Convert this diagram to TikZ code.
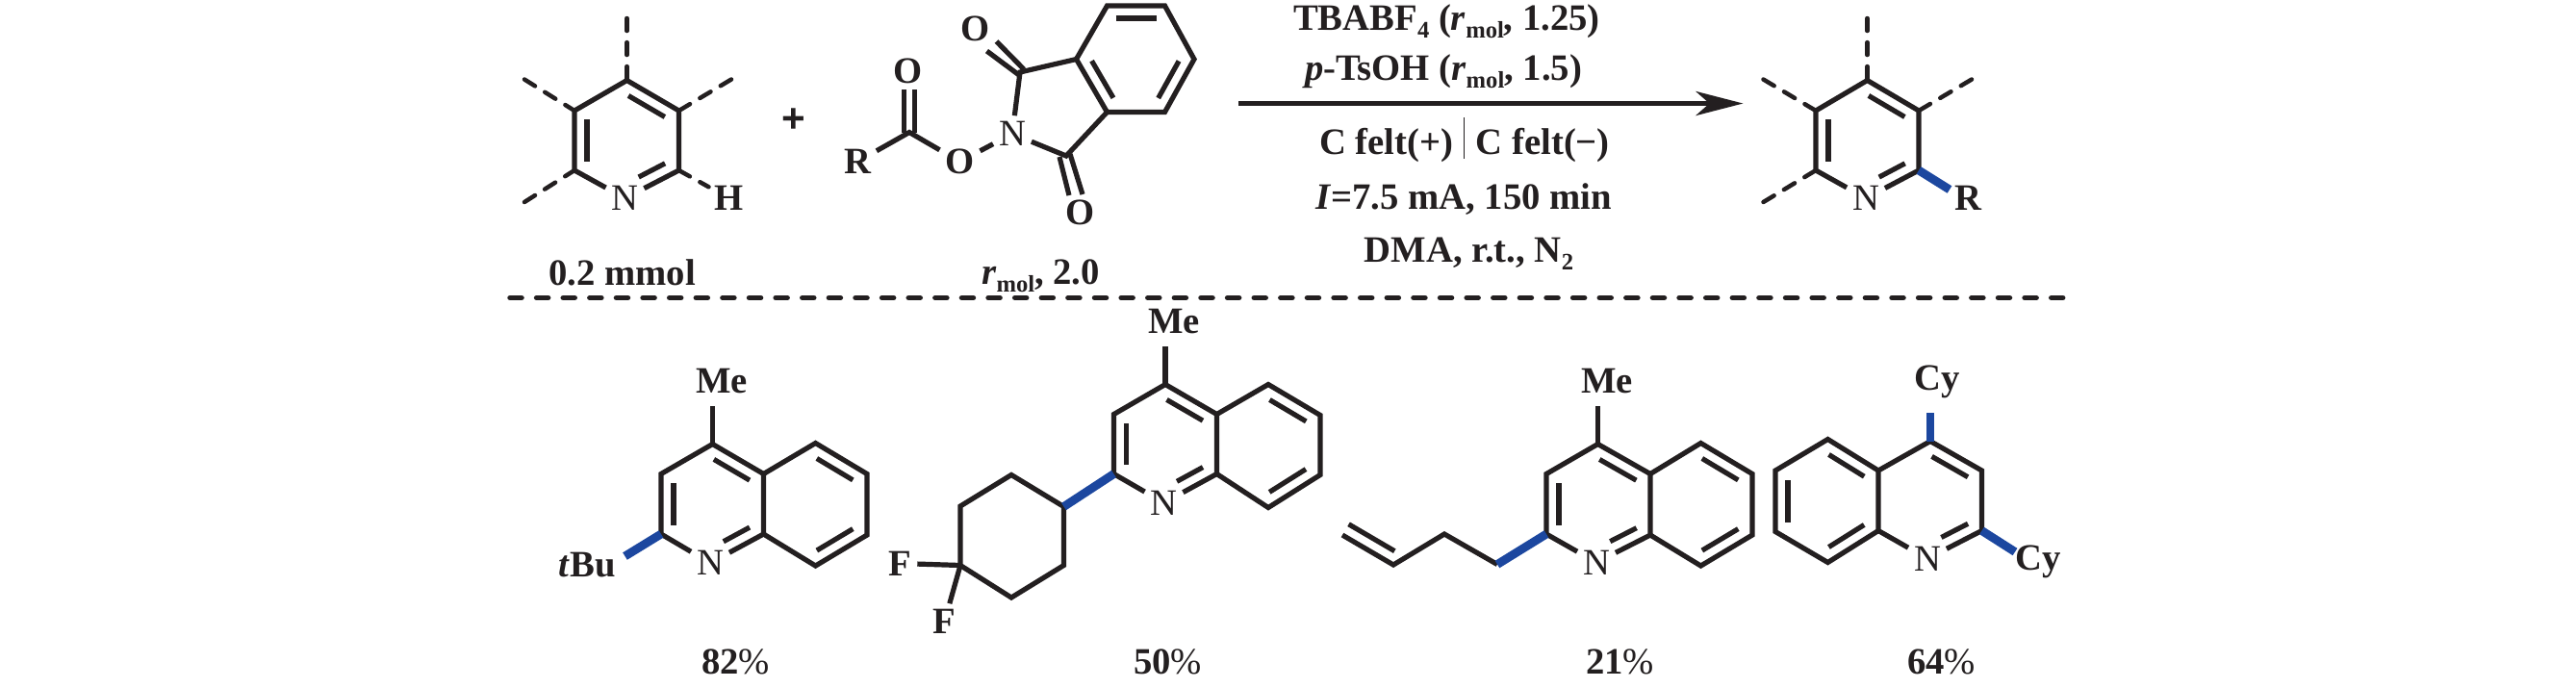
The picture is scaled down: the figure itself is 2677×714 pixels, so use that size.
\documentclass[tikz,border=0pt]{standalone}
\usepackage{fontspec}
\setmainfont{Liberation Serif}
\newfontfamily\plusfont{Liberation Sans}
\usetikzlibrary{arrows.meta, calc}

\definecolor{bondblack}{HTML}{231F20}
\definecolor{bondblue}{HTML}{1C479F}

\newcommand{\rmol}{\textit{r}\raisebox{-.45ex}{\fontsize{7}{7}\selectfont mol}}
\newcommand{\lowtxt}[1]{\raisebox{-.45ex}{\fontsize{7}{7}\selectfont #1}}
% inner line of a double bond, on the right of a -> b
\newcommand{\innerbond}[3][.15]{\draw[bond] ($(#2)!.15!(#3)!.13cm!-90:(#3)$) -- ($(#3)!#1!(#2)!.13cm!90:(#2)$);}

\begin{document}
\begin{tikzpicture}[x=.01cm, y=-.01cm, font=\fontsize{11}{13}\selectfont\bfseries, text=bondblack]
    % Styles
    \tikzstyle{bond} = [draw=bondblack, line width=.052cm]
    \tikzstyle{dashbond} = [draw=bondblack, line width=.045cm, line cap=round, dash pattern=on .13cm off .12cm]
    \tikzstyle{newbond} = [draw=bondblue, line width=.088cm]
    \tikzstyle{atom} = [inner sep=1.5pt, text height=7.3pt, text depth=0pt]
    \tikzstyle{txt} = [anchor=base, inner sep=0pt]
    \tikzstyle{arrow} = [draw=bondblack, line width=.055cm, -{Stealth[length=.49cm, width=.25cm, inset=.14cm]}]

    \useasboundingbox (0,0) rectangle (2677,714);

    % Pyridine
    \coordinate (pytop) at (651.5,83.5);
    \coordinate (pyur) at (705.5,115);
    \coordinate (pylr) at (705.5,177);
    \coordinate (pyll) at (597,177);
    \coordinate (pyul) at (597,115);
    \coordinate (pydtop) at (651.5,19);
    \coordinate (pydul) at (545,82.5);
    \coordinate (pydur) at (760,82.5);
    \coordinate (pydll) at (545,210);
    \node[atom] (pyn) at (649.5,206) {\mdseries N};
    \node[atom] (pyh) at (757.5,206) {H};
    \draw[bond] (pyn) -- (pyll) -- (pyul) -- (pytop) -- (pyur) -- (pylr) -- (pyn);
    \innerbond{pytop}{pyur}
    \innerbond{pyll}{pyul}
    \innerbond[.36]{pylr}{pyn}
    \draw[dashbond] (pydtop) -- (pytop);
    \draw[dashbond] (pydul) -- (pyul);
    \draw[dashbond] (pydur) -- (pyur);
    \draw[dashbond] (pydll) -- (pyll);
    \draw[dashbond] (pylr) -- (pyh);

    \node[atom] (plus) at (825,125) {\plusfont\fontsize{12}{12}\selectfont +};

    % NHPI ester
    \node[atom] (estr) at (891,168) {R};
    \coordinate (estc) at (945,137.5);
    \node[atom] (esto) at (944,74) {O};
    \node[atom] (esto2) at (997.5,168) {O};
    \node[atom] (estn) at (1052,139) {\mdseries N};
    \coordinate (imc1) at (1060,75);
    \coordinate (imc2) at (1108,162);
    \node[atom] (imo1) at (1013.5,29.5) {O};
    \node[atom] (imo2) at (1122.5,221) {O};
    \coordinate (imoa1) at (1025.5,53);
    \coordinate (imoa2) at (1059,78);
    \coordinate (imob1) at (1035.5,43);
    \coordinate (imob2) at (1064,72);
    \coordinate (imoc1) at (1101,163);
    \coordinate (imoc2) at (1111,203);
    \coordinate (imod1) at (1112,160);
    \coordinate (imod2) at (1125,202);
    \coordinate (bza) at (1118.5,61.5);
    \coordinate (bzb) at (1150.5,116.5);
    \coordinate (bzc) at (1210.5,116.5);
    \coordinate (bzd) at (1241,61.5);
    \coordinate (bze) at (1210.5,6);
    \coordinate (bzf) at (1150.5,6);
    \draw[bond] (estr) -- (estc) -- (esto2);
    \draw[bond] ([xshift=-.055cm]estc) -- ([xshift=-.055cm]esto.south -| estc);
    \draw[bond] ([xshift=.055cm]estc) -- ([xshift=.055cm]esto.south -| estc);
    \draw[bond] (esto2) -- (estn);
    \draw[bond] (estn) -- (imc1) -- (bza) -- (bzb) -- (imc2) -- (estn);
    \draw[bond] (bza) -- (bzf) -- (bze) -- (bzd) -- (bzc) -- (bzb);
    \draw[bond] (imoa1) -- (imoa2);
    \draw[bond] (imob1) -- (imob2);
    \draw[bond] (imoc1) -- (imoc2);
    \draw[bond] (imod1) -- (imod2);
    \innerbond{bzb}{bza}
    \innerbond{bzd}{bzc}
    \innerbond{bzf}{bze}

    % Reagent labels
    \node[txt] (amount1) at (646.5,296.5) {0.2 mmol};
    \node[txt] (amount2) at (1081.5,295) {\rmol, 2.0};

    % Conditions
    \coordinate (arrowtail) at (1287,107.5);
    \coordinate (arrowhead) at (1811.5,107.5);
    \draw[arrow] (arrowtail) -- (arrowhead);
    \node[txt] (cond1) at (1503.5,31.5) {TBABF\lowtxt{4} (\rmol, 1.25)};
    \node[txt] (cond2) at (1500,83) {\textit{p}-TsOH (\rmol, 1.5)};
    \node[txt, anchor=base east] (cond3a) at (1511,160) {C felt(+)};
    \node[txt, anchor=base west] (cond3b) at (1533,160) {C felt(\textminus)};
    \coordinate (bartop) at (1521.5,122);
    \coordinate (barend) at (1521.5,165);
    \draw[draw=bondblack, line width=.012cm] (bartop) -- (barend);
    \node[txt] (cond4) at (1521,217) {\textit{I}=7.5 mA, 150 min};
    \node[txt] (cond5) at (1526.5,272.5) {DMA, r.t., N\lowtxt{2}};

    % Product
    \coordinate (prtop) at (1940.5,83.5);
    \coordinate (prur) at (1994,115);
    \coordinate (prlr) at (1994,177);
    \coordinate (prll) at (1887,177);
    \coordinate (prul) at (1887,115);
    \coordinate (prdtop) at (1940.5,19);
    \coordinate (prdul) at (1832.5,82.5);
    \coordinate (prdur) at (2049,82.5);
    \coordinate (prdll) at (1832.5,210);
    \node[atom] (prn) at (1939,206) {\mdseries N};
    \node[atom] (prr) at (2045,206) {R};
    \coordinate (prbl) at (2026,197);
    \draw[bond] (prn) -- (prll) -- (prul) -- (prtop) -- (prur) -- (prlr) -- (prn);
    \innerbond{prtop}{prur}
    \innerbond{prll}{prul}
    \innerbond[.36]{prlr}{prn}
    \draw[dashbond] (prdtop) -- (prtop);
    \draw[dashbond] (prdul) -- (prul);
    \draw[dashbond] (prdur) -- (prur);
    \draw[dashbond] (prdll) -- (prll);
    \draw[newbond] (prlr) -- (prbl);

    % Separator
    \coordinate (sepleft) at (530,309.5);
    \coordinate (sepright) at (2150,309.5);
    \draw[draw=bondblack, line width=.055cm, line cap=round, dash pattern=on .12cm off .156cm] (sepleft) -- (sepright);

    % Compound 82%
    \coordinate (ac4) at (740.5,461.5);
    \coordinate (ac3) at (687,492.5);
    \coordinate (ac2) at (687,555);
    \coordinate (ac8a) at (793.5,555);
    \coordinate (ac4a) at (793.5,492.5);
    \coordinate (ac5) at (847.5,460.5);
    \coordinate (ac6) at (901,492.5);
    \coordinate (ac7) at (901,556);
    \coordinate (ac8) at (847.5,588);
    \coordinate (acme) at (740.5,421.5);
    \coordinate (acbl) at (649.5,578);
    \node[atom] (an) at (738,585) {\mdseries N};
    \node[atom] (ame) at (750,396) {Me};
    \node[atom] (atbu) at (610,586.5) {\textit{t}Bu};
    \node[txt] (ayield) at (764.5,700.5) {82{\mdseries\%}};
    \draw[bond] (an) -- (ac2) -- (ac3) -- (ac4) -- (ac4a) -- (ac8a) -- (an);
    \draw[bond] (ac4a) -- (ac5) -- (ac6) -- (ac7) -- (ac8) -- (ac8a);
    \draw[bond] (ac4) -- (acme);
    \draw[newbond] (ac2) -- (acbl);
    \innerbond{ac2}{ac3}
    \innerbond{ac4}{ac4a}
    \innerbond[.36]{ac8a}{an}
    \innerbond{ac5}{ac6}
    \innerbond{ac7}{ac8}

    % Compound 50%
    \coordinate (bc4) at (1211,399.5);
    \coordinate (bc3) at (1157.5,430.5);
    \coordinate (bc2) at (1157.5,492.5);
    \coordinate (bc8a) at (1264.5,492.5);
    \coordinate (bc4a) at (1264.5,430.5);
    \coordinate (bc5) at (1318,399.5);
    \coordinate (bc6) at (1372,431.5);
    \coordinate (bc7) at (1372,493.5);
    \coordinate (bc8) at (1318,527.5);
    \coordinate (bcme) at (1211,360);
    \coordinate (chx1) at (1105.5,526.5);
    \coordinate (chx2) at (1051,493.5);
    \coordinate (chx3) at (998,526);
    \coordinate (chx4) at (998,587.5);
    \coordinate (chx5) at (1051,621);
    \coordinate (chx6) at (1105.5,587.5);
    \node[atom] (bn) at (1209.5,522.5) {\mdseries N};
    \node[atom] (bme) at (1220,334) {Me};
    \node[atom] (bf1) at (935.5,585.5) {F};
    \node[atom] (bf2) at (981.5,646) {F};
    \node[txt] (byield) at (1213.5,700.5) {50{\mdseries\%}};
    \draw[bond] (bn) -- (bc2) -- (bc3) -- (bc4) -- (bc4a) -- (bc8a) -- (bn);
    \draw[bond] (bc4a) -- (bc5) -- (bc6) -- (bc7) -- (bc8) -- (bc8a);
    \draw[bond] (bc4) -- (bcme);
    \draw[bond] (chx1) -- (chx2) -- (chx3) -- (chx4) -- (chx5) -- (chx6) -- cycle;
    \draw[bond] (chx4) -- (bf1);
    \draw[bond] (chx4) -- (bf2);
    \draw[newbond] (bc2) -- (chx1);
    \innerbond{bc2}{bc3}
    \innerbond{bc4}{bc4a}
    \innerbond[.36]{bc8a}{bn}
    \innerbond{bc5}{bc6}
    \innerbond{bc7}{bc8}

    % Compound 21%
    \coordinate (cc4) at (1660.5,461.5);
    \coordinate (cc3) at (1607,492.5);
    \coordinate (cc2) at (1607,555);
    \coordinate (cc8a) at (1715,556);
    \coordinate (cc4a) at (1715,492.5);
    \coordinate (cc5) at (1767.5,460.5);
    \coordinate (cc6) at (1821,492.5);
    \coordinate (cc7) at (1821,556);
    \coordinate (cc8) at (1767.5,588);
    \coordinate (ccme) at (1660.5,421.5);
    \coordinate (ch1) at (1556,586.5);
    \coordinate (ch2) at (1501,555);
    \coordinate (ch3) at (1448,587);
    \coordinate (ch4) at (1395,556);
    \node[atom] (cn) at (1659,584.5) {\mdseries N};
    \node[atom] (cme) at (1670,396) {Me};
    \node[txt] (cyield) at (1683.5,700.5) {21{\mdseries\%}};
    \draw[bond] (cn) -- (cc2) -- (cc3) -- (cc4) -- (cc4a) -- (cc8a) -- (cn);
    \draw[bond] (cc4a) -- (cc5) -- (cc6) -- (cc7) -- (cc8) -- (cc8a);
    \draw[bond] (cc4) -- (ccme);
    \draw[bond] (ch1) -- (ch2) -- (ch3) -- (ch4);
    \draw[newbond] (cc2) -- (ch1);
    \innerbond{cc2}{cc3}
    \innerbond{cc4}{cc4a}
    \innerbond[.36]{cc8a}{cn}
    \innerbond{cc5}{cc6}
    \innerbond{cc7}{cc8}
    \draw[bond] ($(ch3)!.1!(ch4)!.13cm!-90:(ch4)$) -- ($(ch4)!.0!(ch3)!.13cm!90:(ch3)$);

    % Compound 64%
    \coordinate (dc4) at (2006,458.5);
    \coordinate (dc3) at (2059.5,489);
    \coordinate (dc2) at (2059.5,551.5);
    \coordinate (dc8a) at (1952,551.5);
    \coordinate (dc4a) at (1952,489);
    \coordinate (dc5) at (1899.5,456.5);
    \coordinate (dc6) at (1845,489);
    \coordinate (dc7) at (1845,552.5);
    \coordinate (dc8) at (1899.5,584.5);
    \coordinate (dcbl1) at (2006,428.5);
    \coordinate (dcbl2) at (2094,573.5);
    \node[atom] (dn) at (2003,580.5) {\mdseries N};
    \node[atom] (dcy1) at (2013.5,393) {Cy};
    \node[atom] (dcy2) at (2118,580) {Cy};
    \node[txt] (dyield) at (2017.5,700.5) {64{\mdseries\%}};
    \draw[bond] (dn) -- (dc2) -- (dc3) -- (dc4) -- (dc4a) -- (dc8a) -- (dn);
    \draw[bond] (dc4a) -- (dc5) -- (dc6) -- (dc7) -- (dc8) -- (dc8a);
    \draw[newbond] (dc4) -- (dcbl1);
    \draw[newbond] (dc2) -- (dcbl2);
    \innerbond{dc4}{dc3}
    \innerbond[.36]{dc2}{dn}
    \innerbond{dc5}{dc4a}
    \innerbond{dc7}{dc6}
    \innerbond{dc8a}{dc8}
  \end{tikzpicture}
\end{document}
